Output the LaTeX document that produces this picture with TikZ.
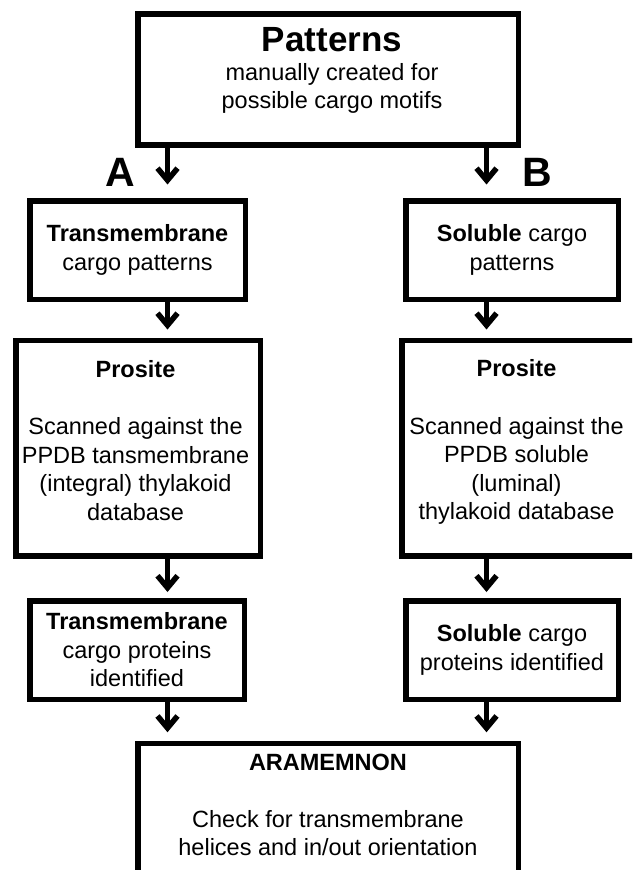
\documentclass[tikz,border=0pt]{standalone}
\usepackage{fontspec}
\setmainfont{Liberation Sans}
\usetikzlibrary{arrows.meta}
\newcommand\boxfont{\fontsize{23.5}{28.5}\selectfont}
\begin{document}
\begin{tikzpicture}[x=1pt,y=-1pt,
  box/.style={draw, line width=5.5pt, inner sep=0pt, align=center, font=\boxfont},
  boxtext/.style={font=\boxfont, align=center, anchor=north, inner sep=0pt},
  flow/.style={line width=5.5pt, -{Straight Barb[length=12pt,width=20pt,line width=5.5pt]}},
  tag/.style={font=\fontsize{41}{48}\selectfont\bfseries, anchor=base, inner sep=0pt},
]
\useasboundingbox (0,0) rectangle (632,870);
\clip (0,0) rectangle (632,870);

% top box
\node[box, minimum width=380.5pt, minimum height=131pt] (patterns) at (328,79.5) {};
\node[boxtext] (patternstext) at ([xshift=4pt,yshift=-15.5pt]patterns.north)
  {{\fontsize{35}{40}\selectfont\bfseries Patterns}\\[0.5pt]manually created for\\possible cargo motifs};

% branch labels
\node[tag] (labA) at (120,186) {A};
\node[tag] (labB) at (537.5,186) {B};

% branch A
\node[box, minimum width=215.5pt, minimum height=98.5pt] (tmpat) at (137.5,250)
  {\textbf{Transmembrane}\\cargo patterns};
\node[box, minimum width=244.5pt, minimum height=215.5pt] (tmscan) at (138,448) {};
\node[boxtext] (tmscantext) at ([xshift=-2.5pt,yshift=-22.5pt]tmscan.north)
  {\textbf{Prosite}\\[29pt]Scanned against the\\PPDB tansmembrane\\(integral) thylakoid\\database};
\node[box, minimum width=214.5pt, minimum height=98.5pt] (tmfound) at (137,650)
  {\textbf{Transmembrane}\\cargo proteins\\identified};

% branch B
\node[box, minimum width=212.5pt, minimum height=98.5pt] (solpat) at (512,250)
  {\textbf{Soluble} cargo\\patterns};
\node[box, minimum width=235.5pt, minimum height=215.5pt] (solscan) at (519.5,448) {};
\node[boxtext] (solscantext) at ([xshift=-3pt,yshift=-22pt]solscan.north)
  {\textbf{Prosite}\\[29pt]Scanned against the\\PPDB soluble\\(luminal)\\thylakoid database};
\node[box, minimum width=212.5pt, minimum height=98.5pt] (solfound) at (512,650)
  {\textbf{Soluble} cargo\\proteins identified};

% final check box
\node[box, minimum width=380.5pt, minimum height=200pt, anchor=north] (aram) at (328,740.75) {};
\node[boxtext] (aramtext) at ([yshift=-12.75pt]aram.north)
  {\textbf{ARAMEMNON}\\[28.5pt]Check for transmembrane\\helices and in/out orientation};

% connectors
\coordinate (ax) at (167.5,0);
\coordinate (bx) at (486.5,0);
\draw[flow, shorten >=13.5pt] (patterns.south -| ax) -- (tmpat.north -| ax);
\draw[flow, shorten >=13.5pt] (patterns.south -| bx) -- (solpat.north -| bx);
\draw[flow, shorten >=8pt] (tmpat.south -| ax) -- (tmscan.north -| ax);
\draw[flow, shorten >=8pt] (solpat.south -| bx) -- (solscan.north -| bx);
\draw[flow, shorten >=6pt] (tmscan.south -| ax) -- (tmfound.north -| ax);
\draw[flow, shorten >=6pt] (solscan.south -| bx) -- (solfound.north -| bx);
\draw[flow, shorten >=8.5pt] (tmfound.south -| ax) -- (aram.north -| ax);
\draw[flow, shorten >=8.5pt] (solfound.south -| bx) -- (aram.north -| bx);
\end{tikzpicture}
\end{document}
